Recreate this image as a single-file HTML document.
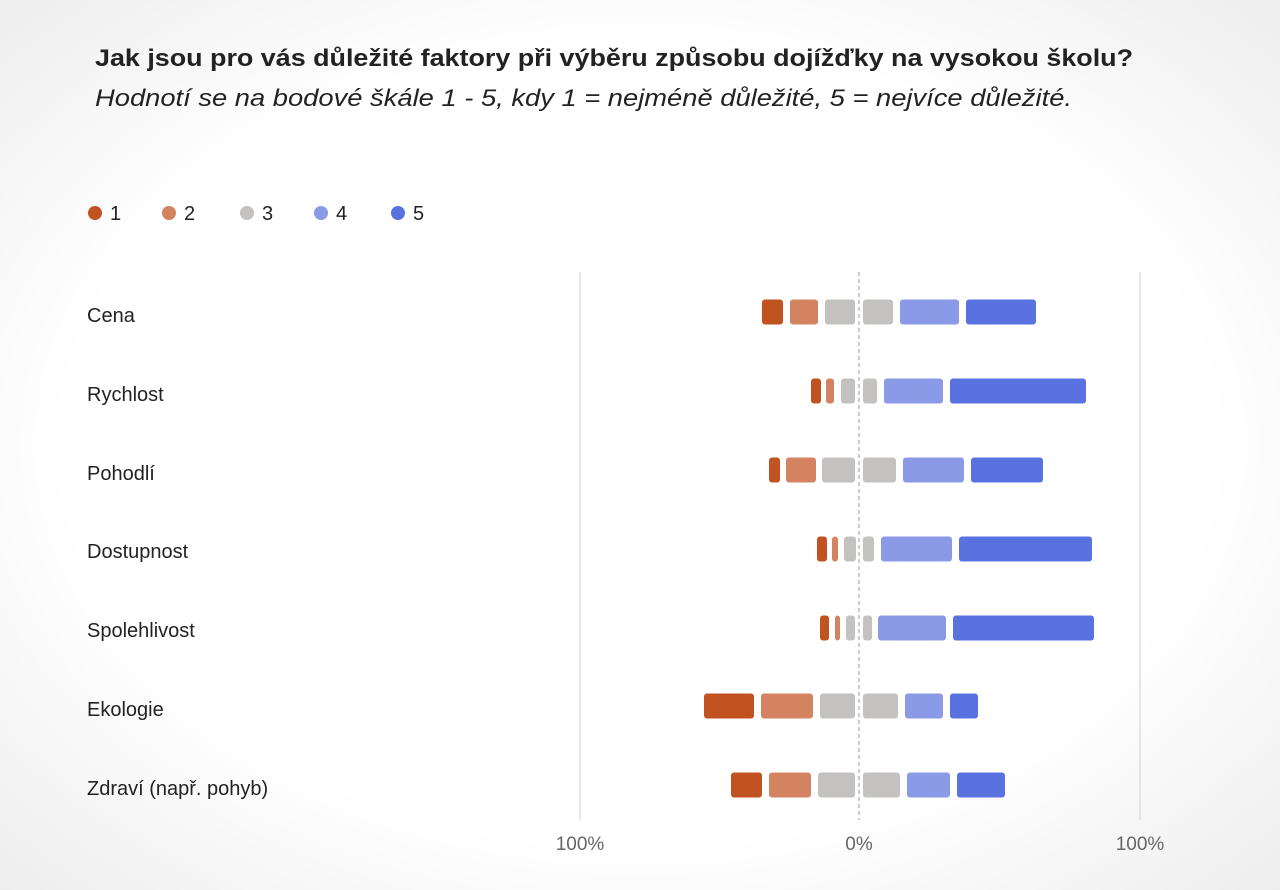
<!DOCTYPE html>
<html><head><meta charset="utf-8"><style>
body{margin:0;width:1280px;height:890px;overflow:hidden;background:radial-gradient(ellipse 75% 75% at 50% 50%,#fff 60%,#eaeaea 100%);font-family:"Liberation Sans",sans-serif;}
</style></head><body>
<svg width="1280" height="890" style="position:absolute;left:0;top:0" font-family="Liberation Sans, sans-serif">
<text x="95" y="66" font-size="24" font-weight="bold" fill="#222" textLength="1038" lengthAdjust="spacingAndGlyphs">Jak jsou pro vás důležité faktory při výběru způsobu dojížďky na vysokou školu?</text>
<text x="95" y="106" font-size="24" font-style="italic" fill="#222" textLength="977" lengthAdjust="spacingAndGlyphs">Hodnotí se na bodové škále 1 - 5, kdy 1 = nejméně důležité, 5 = nejvíce důležité.</text>
<g font-size="20" fill="#222">
<circle cx="95" cy="213" r="7" fill="#c0531f"/><text x="110" y="220">1</text>
<circle cx="169" cy="213" r="7" fill="#d38360"/><text x="184" y="220">2</text>
<circle cx="247" cy="213" r="7" fill="#c4c2c0"/><text x="262" y="220">3</text>
<circle cx="321" cy="213" r="7" fill="#8a9ae6"/><text x="336" y="220">4</text>
<circle cx="398" cy="213" r="7" fill="#5a72e0"/><text x="413" y="220">5</text>
</g>
<line x1="580" y1="272" x2="580" y2="820" stroke="#ddd" stroke-width="1.5"/>
<line x1="1140" y1="272" x2="1140" y2="820" stroke="#ddd" stroke-width="1.5"/>
<line x1="859" y1="272" x2="859" y2="820" stroke="#bbb" stroke-width="1.5" stroke-dasharray="4,3"/>
<g font-size="20" fill="#222">
<text x="87" y="322">Cena</text>
<text x="87" y="401">Rychlost</text>
<text x="87" y="480">Pohodlí</text>
<text x="87" y="558">Dostupnost</text>
<text x="87" y="637">Spolehlivost</text>
<text x="87" y="716">Ekologie</text>
<text x="87" y="795">Zdraví (např. pohyb)</text>
</g>
<g font-size="19" fill="#666" text-anchor="middle">
<text x="580" y="850">100%</text><text x="859" y="850">0%</text><text x="1140" y="850">100%</text>
</g>
<g id="bars"></g>
</svg>
<script>
var cols=["#c0531f","#d38360","#c4c2c0","#c4c2c0","#8a9ae6","#5a72e0"];
var rows=[[312,[762,783,790,818,825,855,863,893,900,959,966,1036]],
[391,[811,821,826,834,841,855,863,877,884,943,950,1086]],
[470,[769,780,786,816,822,855,863,896,903,964,971,1043]],
[549,[817,827,832,838,844,856,863,874,881,952,959,1092]],
[628,[820,829,835,840,846,855,863,872,878,946,953,1094]],
[706,[704,754,761,813,820,855,863,898,905,943,950,978]],
[785,[731,762,769,811,818,855,863,900,907,950,957,1005]]];
var g=document.getElementById("bars"),s="";
rows.forEach(function(r){for(var i=0;i<6;i++){var a=r[1][2*i],b=r[1][2*i+1];
s+='<rect x="'+a+'" y="'+(r[0]-12.5)+'" width="'+(b-a)+'" height="25" rx="3" fill="'+cols[i]+'"/>';}});
g.innerHTML=s;
</script>
</body></html>
